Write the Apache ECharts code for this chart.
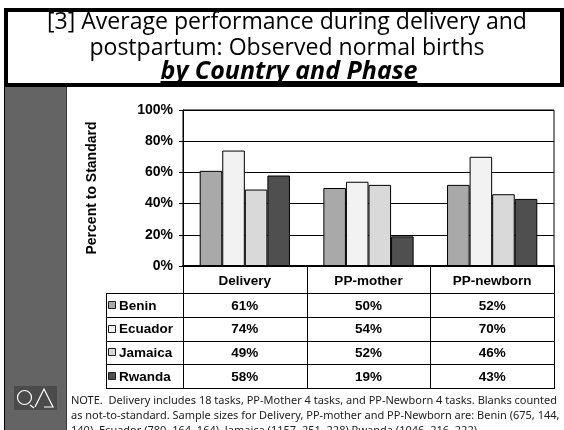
<!DOCTYPE html>
<html>
<head>
<meta charset="utf-8">
<script src="https://cdn.jsdelivr.net/npm/echarts@6/dist/echarts.min.js"></script>
<style>
  html, body { margin: 0; padding: 0; background: #fff; }
  #chart { width: 564px; height: 430px; }
</style>
</head>
<body>
<div id="chart"></div>
<script>
// data
const phases = ['Delivery', 'PP-mother', 'PP-newborn']
const countries = ['Benin', 'Ecuador', 'Jamaica', 'Rwanda']
const benin = [61, 50, 52]
const ecuador = [74, 54, 70]
const jamaica = [49, 52, 46]
const rwanda = [58, 19, 43]
const yTicks = [0, 20, 40, 60, 80, 100]

const titleLines = ['[3] Average performance during delivery and', 'postpartum: Observed normal births']
const subTitle = 'by Country and Phase'
const noteLines = [
  'NOTE.  Delivery includes 18 tasks, PP-Mother 4 tasks, and PP-Newborn 4 tasks. Blanks counted',
  'as not-to-standard. Sample sizes for Delivery, PP-mother and PP-Newborn are: Benin (675, 144,',
  '140), Ecuador (780, 164, 164), Jamaica (1157, 251, 228) Rwanda (1046, 216, 222)'
]

const seriesData = [benin, ecuador, jamaica, rwanda]
const colors = ['#a9a9a9', '#f2f2f2', '#d9d9d9', '#4f4f4f']
const boldFont = 'bold 13.5px "Liberation Sans", Arial, sans-serif'

const chart = echarts.init(document.getElementById('chart'))

const gridTop = 110
const gridBottomY = 266
const headerBottom = 293
const tableBottom = 388
const legendLeft = 106

chart.setOption({
  animation: false,
  backgroundColor: '#fff',
  grid: {
    left: 183,
    right: 10,
    top: gridTop,
    bottom: 430 - gridBottomY,
    show: true,
    borderColor: '#000',
    borderWidth: 1,
    backgroundColor: '#fff'
  },
  xAxis: {
    type: 'category',
    data: phases,
    axisLine: { lineStyle: { color: '#000', width: 2 } },
    axisTick: { show: false },
    axisLabel: {
      margin: 8,
      color: '#000',
      fontWeight: 'bold',
      fontSize: 13.5,
      fontFamily: '"Liberation Sans", Arial, sans-serif'
    }
  },
  yAxis: {
    type: 'value',
    min: yTicks[0],
    max: yTicks[yTicks.length - 1],
    interval: yTicks[1] - yTicks[0],
    name: 'Percent to Standard',
    nameLocation: 'middle',
    nameGap: 84,
    nameRotate: 90,
    nameTextStyle: {
      color: '#000',
      fontWeight: 'bold',
      fontSize: 14,
      fontFamily: '"Liberation Sans", Arial, sans-serif'
    },
    axisLine: { show: true, lineStyle: { color: '#000', width: 1 } },
    axisTick: { show: true, length: 4, lineStyle: { color: '#000' } },
    splitLine: { lineStyle: { color: '#000', width: 1 } },
    axisLabel: {
      margin: 10,
      color: '#000',
      fontWeight: 'bold',
      fontSize: 14,
      fontFamily: '"Liberation Sans", Arial, sans-serif',
      formatter: '{value}%'
    }
  },
  series: countries.map((name, i) => ({
    name: name,
    type: 'bar',
    data: seriesData[i],
    barGap: '0%',
    barCategoryGap: '27%',
    itemStyle: { color: colors[i], borderColor: '#000', borderWidth: 1 }
  }))
})

// font size that makes text span a given width
const cv = document.createElement('canvas').getContext('2d')
function fitSize(text, style, family, target) {
  cv.font = style + ' 100px ' + family
  return 100 * target / cv.measureText(text).width
}

// table + decorations, placed from the category axis
function buildGraphics() {
  const centers = phases.map(p => chart.convertToPixel({ xAxisIndex: 0 }, p))
  const band = centers[1] - centers[0]
  const colEdges = [centers[0] - band / 2].concat(centers.map(c => c + band / 2))
  const right = colEdges[colEdges.length - 1]
  const rowH = (tableBottom - headerBottom) / countries.length
  const els = []
  const ln = (x1, y1, x2, y2, w) => els.push({
    type: 'line', z: 10, shape: { x1, y1, x2, y2 }, style: { stroke: '#000', lineWidth: w || 1 }
  })

  // left panel
  els.push({ type: 'rect', z: 1, shape: { x: 5, y: 87, width: 61, height: 343 }, style: { fill: '#646464' } })
  ln(4.5, 87, 4.5, 430, 1)
  els.push({ type: 'line', z: 2, shape: { x1: 66.5, y1: 87, x2: 66.5, y2: 430 }, style: { stroke: '#3a3a3a', lineWidth: 1 } })

  // title box
  const fam = '"Open Sans", sans-serif'
  els.push({ type: 'rect', z: 2, shape: { x: 6, y: 10, width: 556, height: 75 }, style: { fill: '#fff', stroke: '#000', lineWidth: 4 } })
  const tSize = fitSize(titleLines[0], '', fam, 480)
  titleLines.forEach((t, i) => {
    els.push({
      type: 'text', z: 3,
      style: {
        text: t, x: 287, y: 22 + i * 26, fill: '#000',
        font: tSize.toFixed(2) + 'px ' + fam,
        textAlign: 'center', textVerticalAlign: 'middle'
      }
    })
  })
  const sSize = Math.min(fitSize(subTitle, 'italic bold', fam, 265), 25)
  const subFont = 'italic bold ' + sSize.toFixed(2) + 'px ' + fam
  els.push({
    type: 'text', z: 3,
    style: { text: subTitle, x: 289, y: 72, fill: '#000', font: subFont, textAlign: 'center', textVerticalAlign: 'middle' }
  })
  cv.font = subFont
  const sw = cv.measureText(subTitle).width
  els.push({ type: 'line', z: 3, shape: { x1: 289 - sw / 2, y1: 82, x2: 289 + sw / 2, y2: 82 }, style: { stroke: '#000', lineWidth: 2 } })

  // table lines
  colEdges.forEach(x => ln(Math.round(x) + 0.5, gridBottomY, Math.round(x) + 0.5, tableBottom))
  ln(legendLeft + 0.5, headerBottom, legendLeft + 0.5, tableBottom)
  for (let r = 0; r <= countries.length; r++) {
    const y = Math.round(headerBottom + r * rowH) + 0.5
    ln(legendLeft, y, Math.round(right) + 1, y)
  }

  // table rows
  countries.forEach((name, r) => {
    const cy = headerBottom + (r + 0.5) * rowH
    els.push({
      type: 'rect', z: 11,
      shape: { x: 108.5, y: Math.round(cy) - 3.5, width: 7, height: 7 },
      style: { fill: colors[r], stroke: '#222', lineWidth: 1 }
    })
    els.push({
      type: 'text', z: 11,
      style: { text: name, x: 119, y: cy + 1, fill: '#000', font: boldFont, textAlign: 'left', textVerticalAlign: 'middle' }
    })
    seriesData[r].forEach((v, c) => {
      els.push({
        type: 'text', z: 11,
        style: { text: v + '%', x: centers[c], y: cy + 1, fill: '#000', font: boldFont, textAlign: 'center', textVerticalAlign: 'middle' }
      })
    })
  })

  // QA logo
  els.push({ type: 'rect', z: 3, shape: { x: 14, y: 386, width: 43, height: 24 }, style: { fill: '#4b4b4b' } })
  els.push({ type: 'circle', z: 4, shape: { cx: 24.5, cy: 397.5, r: 7 }, style: { fill: 'none', stroke: '#fff', lineWidth: 1.2 } })
  els.push({ type: 'polyline', z: 4, shape: { points: [[30, 405], [34, 408]] }, style: { stroke: '#fff', lineWidth: 1.2 } })
  els.push({ type: 'polyline', z: 4, shape: { points: [[35, 407], [44, 389], [53, 407], [44, 407]] }, style: { fill: 'none', stroke: '#fff', lineWidth: 1.2 } })

  // note
  const nFam = '"Noto Sans", sans-serif'
  const nSize = fitSize(noteLines[1], '', nFam, 489)
  noteLines.forEach((t, i) => {
    els.push({
      type: 'text', z: 3,
      style: { text: t, x: 71, y: 401 + i * 15, fill: '#222', font: nSize.toFixed(2) + 'px ' + nFam, textAlign: 'left', textVerticalAlign: 'middle' }
    })
  })
  return els
}

chart.setOption({ graphic: { elements: buildGraphics() } })
</script>
</body>
</html>
